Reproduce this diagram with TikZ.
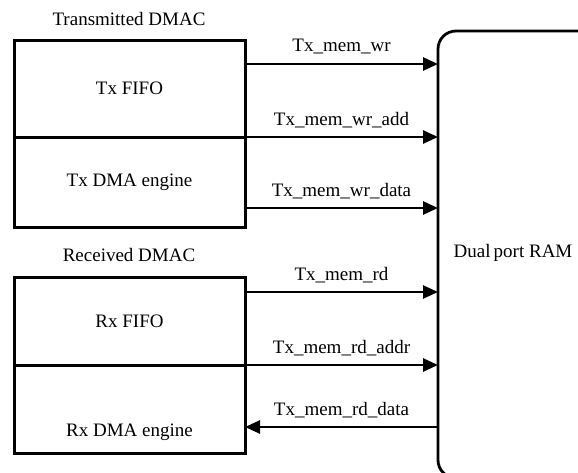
\documentclass[tikz,border=0pt]{standalone}
\usepackage{fontspec}
\setmainfont{Liberation Serif}
\usetikzlibrary{arrows.meta}
\begin{document}
\begin{tikzpicture}[x=1pt,y=-1pt,
  txt/.style={font=\fontsize{19}{22}\selectfont, inner sep=0pt},
  blk/.style={draw, line width=3pt, minimum width=231pt, inner sep=0pt, outer sep=0pt, anchor=north west, txt},
  sig/.style={line width=2.6pt, -{Triangle[length=15pt,width=13pt]}},
  lab/.style={txt, midway, yshift=17pt}]
\useasboundingbox (0,0) rectangle (578,472);
\clip (0,0) rectangle (578,472);
% titles
\node[txt] (ttitle) at (129,19) {Transmitted DMAC};
\node[txt] (rtitle) at (129,255) {Received DMAC};
% blocks
\node[blk, minimum height=97pt] (txfifo) at (14,40) {Tx FIFO};
\node[blk, minimum height=90pt] (txdma) at (14,137) {Tx DMA engine};
\node[blk, minimum height=88pt] (rxfifo) at (14,277) {Rx FIFO};
\node[blk, minimum height=88pt, label={[txt, anchor=center, yshift=21pt]south:Rx DMA engine}] (rxdma) at (14,365) {};
% RAM
\node[draw, line width=2.8pt, rounded corners=18pt, minimum width=200pt, minimum height=447pt, outer sep=0pt, anchor=north west] (ram) at (438,31) {};
\node[txt] (ramlabel) at (513,253) {Dual\,port RAM};
% signals
\draw[sig] ([yshift=-24pt]txfifo.north east) -- ([yshift=-24pt]txfifo.north east -| ram.west) node[lab] {Tx\_mem\_wr};
\draw[sig] (txfifo.south east) -- (txfifo.south east -| ram.west) node[lab] {Tx\_mem\_wr\_add};
\draw[sig] ([yshift=19pt]txdma.south east) -- ([yshift=19pt]txdma.south east -| ram.west) node[lab] {Tx\_mem\_wr\_data};
\draw[sig] ([yshift=-15pt]rxfifo.north east) -- ([yshift=-15pt]rxfifo.north east -| ram.west) node[lab] {Tx\_mem\_rd};
\draw[sig] (rxfifo.south east) -- (rxfifo.south east -| ram.west) node[lab] {Tx\_mem\_rd\_addr};
\draw[sig] ([yshift=26pt]rxdma.south east -| ram.west) -- ([yshift=26pt]rxdma.south east) node[lab] {Tx\_mem\_rd\_data};
\end{tikzpicture}
\end{document}
